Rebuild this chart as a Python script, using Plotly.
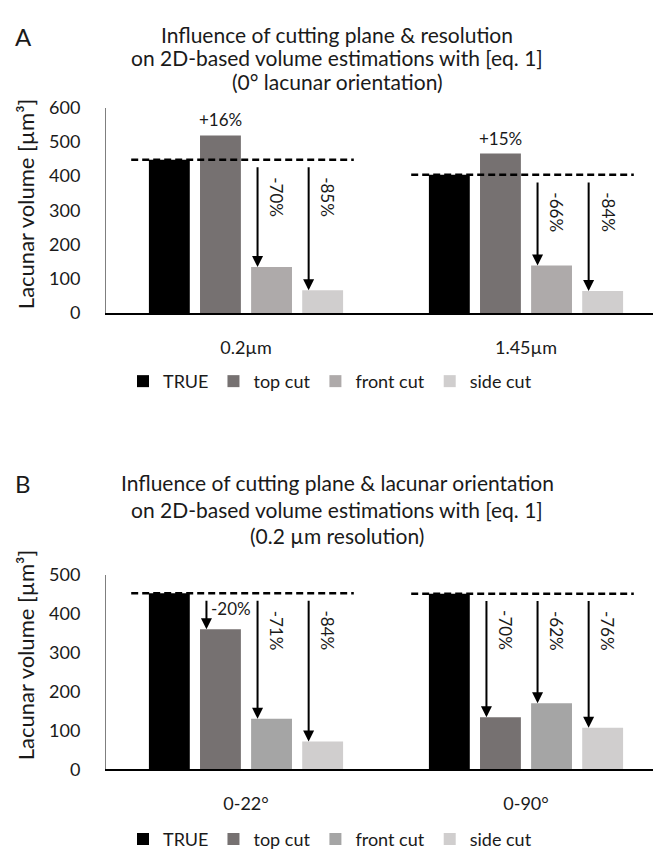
import plotly.graph_objects as go

W, H = 661, 854
FONT = "Lato, 'Open Sans', sans-serif"
INK = "#1a1a1a"

series = ["TRUE", "top cut", "front cut", "side cut"]

# panel A: cutting plane & resolution
cats_a = ["0.2µm", "1.45µm"]
true_a = [448, 404]
top_a = [519, 466]
front_a = [134, 139]
side_a = [66, 64]
pct_a = {"top cut": ["+16%", "+15%"], "front cut": ["-70%", "-66%"], "side cut": ["-85%", "-84%"]}
colors_a = ["#000000", "#767171", "#AEAAAA", "#D0CECE"]

# panel B: cutting plane & lacunar orientation
cats_b = ["0-22°", "0-90°"]
true_b = [452, 451]
top_b = [360, 134]
front_b = [130, 170]
side_b = [72, 107]
pct_b = {"top cut": ["-20%", "-70%"], "front cut": ["-71%", "-62%"], "side cut": ["-84%", "-76%"]}
colors_b = ["#000000", "#767171", "#A5A5A5", "#D0CECE"]

title_a = ["Influence of cutting plane & resolution",
           "on 2D-based volume estimations with [eq. 1]",
           "(0° lacunar orientation)"]
title_b = ["Influence of cutting plane & lacunar orientation",
           "on 2D-based volume estimations with [eq. 1]",
           "(0.2 µm resolution)"]


def px_x(p):
    return p / W


def px_y(p):
    return 1 - p / H


fig = go.Figure()

slot = (1 - 0.27) / 4   # width of one bar slot in category units
annos = []
shapes = []


def panel(xa, ya, vals, colors, pct, yrange, legend):
    for k, name in enumerate(series):
        fig.add_trace(go.Bar(x=[0, 1], y=vals[k], name=name, marker_color=colors[k],
                             marker_line_width=0, xaxis=xa, yaxis=ya, legend=legend,
                             hoverinfo="skip"))
    drop = 0.03 * yrange
    for i in range(2):
        t = vals[0][i]
        # dashed reference line at the TRUE value
        shapes.append(dict(type="line", xref=xa, yref=ya, x0=i - 0.41, x1=i + 0.385,
                           y0=t, y1=t, line=dict(color="black", width=2.5, dash="7px,4px")))
        for k in range(1, 4):
            v = vals[k][i]
            label = pct[series[k]][i]
            cx = i + (k - 1.5) * slot
            if v > t:
                annos.append(dict(x=cx, y=v, xref=xa, yref=ya, text=label, showarrow=False,
                                  xanchor="center", yanchor="bottom", yshift=3,
                                  font=dict(size=17, color=INK)))
                continue
            ax = cx - 0.05
            start = t - drop
            annos.append(dict(x=ax, y=v, xref=xa, yref=ya, ax=ax, ay=start,
                              axref=xa, ayref=ya, text="", showarrow=True,
                              arrowhead=2, arrowsize=1.1, arrowwidth=2, arrowcolor="black",
                              standoff=0, startstandoff=0))
            if start - v < 150:
                annos.append(dict(x=ax, y=start, xref=xa, yref=ya, text=label, showarrow=False,
                                  xanchor="left", yanchor="top", xshift=3, yshift=3,
                                  font=dict(size=17, color=INK)))
            else:
                annos.append(dict(x=ax, y=start, xref=xa, yref=ya, text=label, showarrow=False,
                                  textangle=90, xanchor="center", yanchor="top",
                                  xshift=19, yshift=-9, font=dict(size=17, color=INK)))


panel("x", "y", [true_a, top_a, front_a, side_a], colors_a, pct_a, 600, "legend")
panel("x2", "y2", [true_b, top_b, front_b, side_b], colors_b, pct_b, 500, "legend2")

# titles, one annotation per line
for lines, ys in [(title_a, [15, 39, 63]), (title_b, [475, 502, 529])]:
    for txt, y in zip(lines, ys):
        annos.append(dict(x=px_x(329), y=px_y(y), xref="paper", yref="paper", text=txt,
                          showarrow=False, xanchor="center", yanchor="middle",
                          font=dict(size=21, color=INK)))
for y, txt in [(17, "A"), (476, "B")]:
    annos.append(dict(x=px_x(15), y=px_y(y), xref="paper", yref="paper", text=txt,
                      showarrow=False, xanchor="center", yanchor="middle",
                      font=dict(size=24, color=INK)))
for y in [189, 652]:
    annos.append(dict(x=px_x(17), y=px_y(y), xref="paper", yref="paper",
                      text="Lacunar volume [µm³]", showarrow=False, textangle=-90,
                      xanchor="center", yanchor="middle", font=dict(size=22, color=INK)))

xdom = [px_x(98), px_x(658)]
axis_x = dict(range=[-0.5, 1.5], tickvals=[0, 1], showgrid=False, zeroline=False,
              showline=True, linecolor="black", linewidth=2, ticks="",
              ticklabelstandoff=17, tickfont=dict(size=18, color=INK, family=FONT),
              fixedrange=True)
axis_y = dict(showgrid=False, zeroline=False, showline=True, linecolor="#7f7f7f",
              linewidth=1, ticks="", ticklabelstandoff=21, dtick=100,
              tickfont=dict(size=18, color=INK, family=FONT), fixedrange=True)

leg = dict(orientation="h", xanchor="center", x=px_x(322), yanchor="middle",
           font=dict(size=18, color=INK, family=FONT), bgcolor="rgba(0,0,0,0)",
           itemclick=False, itemdoubleclick=False)

fig.update_layout(
    width=W, height=H, margin=dict(l=0, r=0, t=0, b=0),
    paper_bgcolor="white", plot_bgcolor="white",
    font=dict(family=FONT, color=INK),
    barmode="group", bargap=0.27, bargroupgap=0.2,
    xaxis=dict(axis_x, domain=xdom, ticktext=cats_a, anchor="y"),
    yaxis=dict(axis_y, domain=[px_y(300.7), px_y(90)], range=[0, 600], anchor="x"),
    xaxis2=dict(axis_x, domain=xdom, ticktext=cats_b, anchor="y2"),
    yaxis2=dict(axis_y, domain=[px_y(769.3), px_y(569.3)], range=[0, 500], anchor="x2"),
    legend=dict(leg, y=px_y(371)),
    legend2=dict(leg, y=px_y(841)),
    annotations=annos, shapes=shapes, showlegend=True,
)

fig.write_html("out.html")
